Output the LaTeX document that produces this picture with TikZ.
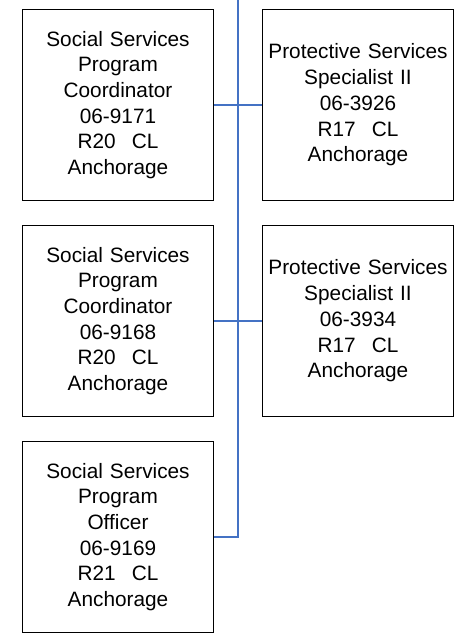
\documentclass[tikz,border=0pt]{standalone}
\usepackage{fontspec}
\setmainfont{Liberation Sans}
\definecolor{connblue}{HTML}{4472C4}
\newcommand{\gapcl}{\hspace{16pt}}
\begin{document}
\begin{tikzpicture}[x=1pt,y=-1pt,
  posbox/.style={draw=black, line width=1.8pt, minimum width=191pt, minimum height=191pt,
    inner sep=0pt, align=center, text width=190pt,
    font=\fontsize{20.8}{25.7}\selectfont},
  conn/.style={draw=connblue, line width=1.8pt}]
\useasboundingbox (0,0) rectangle (472,635);
\node[posbox] (a) at (118,105) {Social Services\\Program\\Coordinator\\06-9171\\R20\gapcl CL\\Anchorage};
\node[posbox] (b) at (358,105) {Protective Services\\Specialist II\\06-3926\\R17\gapcl CL\\Anchorage};
\node[posbox] (c) at (118,321) {Social Services\\Program\\Coordinator\\06-9168\\R20\gapcl CL\\Anchorage};
\node[posbox] (d) at (358,321) {Protective Services\\Specialist II\\06-3934\\R17\gapcl CL\\Anchorage};
\node[posbox] (e) at (118,537) {Social Services\\Program\\Officer\\06-9169\\R21\gapcl CL\\Anchorage};
\coordinate (top) at (238,0);
\draw[conn] (top) |- (e.east);
\draw[conn] (a.east) -- (b.west);
\draw[conn] (c.east) -- (d.west);
\end{tikzpicture}
\end{document}
